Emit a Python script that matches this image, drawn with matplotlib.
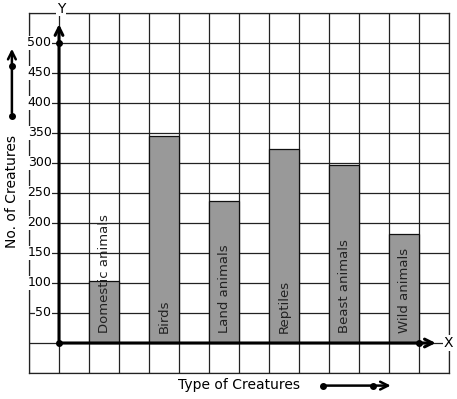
import numpy as np
import matplotlib
matplotlib.use('Agg')
import matplotlib.pyplot as plt

categories = ['Domestic animals', 'Birds', 'Land animals', 'Reptiles', 'Beast animals', 'Wild animals']
counts = [103, 345, 236, 323, 297, 182]
bar_pos = [1.5, 3.5, 5.5, 7.5, 9.5, 11.5]
y_labels = [50, 100, 150, 200, 250, 300, 350, 400, 450, 500]

fig = plt.figure(figsize=(4.57, 3.99), dpi=100)
ax = fig.add_axes([29/457, 26/399, 420/457, 360/399])
ax.set_xlim(-1, 13)
ax.set_ylim(-50, 550)

# grid
ax.set_xticks(np.arange(-1, 14, 1))
ax.set_yticks(np.arange(-50, 551, 50))
ax.grid(True, color='#222222', linewidth=0.9)
ax.tick_params(length=0, labelleft=False, labelbottom=False)
for s in ax.spines.values():
    s.set_linewidth(0.9)
    s.set_color('#222222')
ax.set_axisbelow(True)

# bars
ax.bar(bar_pos, counts, width=1.0, color='#999999', edgecolor='#111111', linewidth=0.9, zorder=2)
for x, name in zip(bar_pos, categories):
    ax.text(x, 17, name, rotation=90, ha='center', va='bottom', fontsize=9.5, color='#222222', zorder=4)

# axes with arrows
ax.annotate('', xy=(0, 536), xytext=(0, 0),
            arrowprops=dict(arrowstyle='->', lw=2.2, color='black', mutation_scale=14), zorder=5)
ax.annotate('', xy=(12.65, 0), xytext=(0, 0),
            arrowprops=dict(arrowstyle='->', lw=2.2, color='black', mutation_scale=14), zorder=5)
ax.plot([0, 0, 12], [0, 500, 0], 'o', color='black', markersize=4, zorder=6)

ax.text(12.97, 0, 'X', ha='center', va='center', fontsize=10,
        bbox=dict(facecolor='white', edgecolor='none', pad=0.5), zorder=6)
ax.text(0.07, 557, 'Y', ha='center', va='center', fontsize=10, clip_on=False,
        bbox=dict(facecolor='white', edgecolor='none', pad=0.5), zorder=6)

for v in y_labels:
    ax.text(-0.25, v, str(v), ha='right', va='center', fontsize=9, zorder=6,
            bbox=dict(facecolor='white', edgecolor='none', pad=0.3))

# axis titles with arrows
ax.text(-1.57, 252, 'No. of Creatures', rotation=90, ha='center', va='center',
        fontsize=10, clip_on=False)
ax.annotate('', xy=(-1.57, 495), xytext=(-1.57, 379), annotation_clip=False,
            arrowprops=dict(arrowstyle='->', lw=1.8, color='black', mutation_scale=14))
ax.plot([-1.57, -1.57], [379, 462], 'o', color='black', markersize=4, clip_on=False)

ax.text(6.0, -70, 'Type of Creatures', ha='center', va='center', fontsize=10, clip_on=False)
ax.annotate('', xy=(11.15, -71), xytext=(8.8, -71), annotation_clip=False,
            arrowprops=dict(arrowstyle='->', lw=1.8, color='black', mutation_scale=14))
ax.plot([8.8, 10.47], [-71, -71], 'o', color='black', markersize=4, clip_on=False)

fig.savefig('out.png', dpi=100)
